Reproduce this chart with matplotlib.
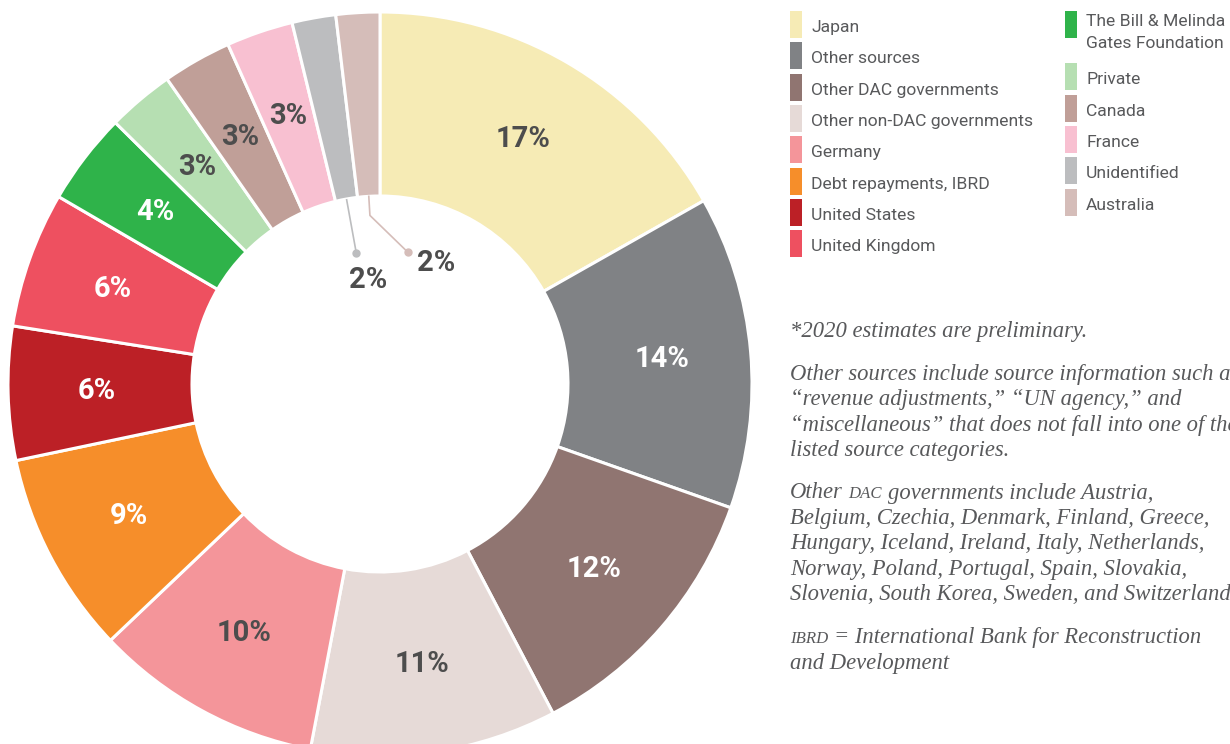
import math
import matplotlib
matplotlib.use("Agg")
import matplotlib.pyplot as plt
from matplotlib.patches import Rectangle

# ---------------- data ----------------
categories = ["Japan", "Other sources", "Other DAC governments", "Other non-DAC governments",
              "Germany", "Debt repayments, IBRD", "United States", "United Kingdom",
              "The Bill & Melinda\nGates Foundation", "Private", "Canada", "France",
              "Unidentified", "Australia"]
shares = [16.8, 13.6, 11.9, 10.7, 9.9, 8.8, 5.8, 5.9, 4.0, 2.9, 3.0, 2.9, 1.9, 1.9]
colors = ["#f6ebb5", "#808285", "#907571", "#e6dad7", "#f4959a", "#f68e2a", "#bc2026",
          "#ee5060", "#2fb34a", "#b6dfb2", "#c09f98", "#f8c0d1", "#bcbdbf", "#d5bdb9"]
label_colors = ["#4d4d4d", "white", "white", "#4d4d4d", "#4d4d4d", "white", "white",
                "white", "white", "#4d4d4d", "#4d4d4d", "#4d4d4d", "#4d4d4d", "#4d4d4d"]

notes = [
    [("*2020 estimates are preliminary.", False)],
    None,
    [("Other sources include source information such as", False)],
    [("“revenue adjustments,” “UN agency,” and", False)],
    [("“miscellaneous” that does not fall into one of the", False)],
    [("listed source categories.", False)],
    None,
    [("Other", False), ("DAC", True), ("governments include Austria,", False)],
    [("Belgium, Czechia, Denmark, Finland, Greece,", False)],
    [("Hungary, Iceland, Ireland, Italy, Netherlands,", False)],
    [("Norway, Poland, Portugal, Spain, Slovakia,", False)],
    [("Slovenia, South Korea, Sweden, and Switzerland.", False)],
    None,
    [("IBRD", True), ("= International Bank for Reconstruction", False)],
    [("and Development", False)],
]

W, H = 1230, 744
TXT = "#58595b"
COND = ["Liberation Sans Narrow", "Roboto"]
SERIF = ["Liberation Serif", "DejaVu Serif"]

fig = plt.figure(figsize=(W / 100, H / 100), dpi=100)
fig.patch.set_facecolor("white")

# ---------------- donut ----------------
R_PX = 372.0
cx, cy = 380.0, 384.0
ax = fig.add_axes([(cx - R_PX) / W, (H - cy - R_PX) / H, 2 * R_PX / W, 2 * R_PX / H])
inner = 188.0 / R_PX
wedges, _ = ax.pie(shares, colors=colors, startangle=90, counterclock=False, radius=1.0,
                   wedgeprops=dict(width=1 - inner, edgecolor="white", linewidth=2.2))
ax.set_xlim(-1, 1)
ax.set_ylim(-1, 1)
ax.set_aspect("equal")
ax.axis("off")


def polar(r, deg):
    a = math.radians(deg)
    return r * math.cos(a), r * math.sin(a)


PCT = 21
n = len(shares)
for i, w in enumerate(wedges):
    mid = (w.theta1 + w.theta2) / 2
    txt = f"{round(shares[i])}%"
    if i < n - 2:
        x, y = polar(0.762, mid)
        ax.text(x, y, txt, ha="center", va="center", fontsize=PCT, fontweight="bold",
                color=label_colors[i], family=COND)
    elif i == n - 2:
        p0 = polar(inner, mid)
        p1 = polar(0.357, mid)
        ax.plot([p0[0], p1[0]], [p0[1], p1[1]], color=colors[i], lw=1.2, solid_capstyle="butt")
        ax.plot([p1[0]], [p1[1]], "o", color=colors[i], ms=5)
        ax.text(p1[0] + 0.033, p1[1] - 0.072, txt, ha="center", va="center", fontsize=PCT,
                fontweight="bold", color=label_colors[i], family=COND)
    else:
        p0 = polar(inner, mid)
        p1 = polar(0.454, mid)
        p2 = (p1[0] + 0.102, p1[1] - 0.099)
        ax.plot([p0[0], p1[0], p2[0]], [p0[1], p1[1], p2[1]], color=colors[i], lw=1.2)
        ax.plot([p2[0]], [p2[1]], "o", color=colors[i], ms=5)
        ax.text(p2[0] + 0.024, p2[1] - 0.03, txt, ha="left", va="center", fontsize=PCT,
                fontweight="bold", color=label_colors[i], family=COND)

# ---------------- legend ----------------
def fx(px):
    return px / W


def fy(py):
    return 1 - py / H


col_items = [list(range(0, 8)), list(range(8, n))]
col_x = [790, 1065]
step = 31.3
sw_w, sw_h = 12, 27
LEG = 12.6
for c, items in enumerate(col_items):
    top = 11.0
    for i in items:
        lines = categories[i].count("\n") + 1
        fig.patches.append(Rectangle((fx(col_x[c]), fy(top + sw_h)), sw_w / W, sw_h / H,
                                     transform=fig.transFigure, facecolor=colors[i],
                                     edgecolor="none"))
        tx = col_x[c] + 21
        if lines == 1:
            fig.text(fx(tx), fy(top + sw_h / 2 + 3), categories[i], ha="left", va="center",
                     fontsize=LEG, color=TXT, family=COND)
        else:
            fig.text(fx(tx), fy(top + 3), categories[i], ha="left", va="top",
                     fontsize=LEG, color=TXT, family=COND, linespacing=1.62)
        top += step + 21 * (lines - 1)

# ---------------- notes ----------------
renderer = fig.canvas.get_renderer()
note_size = 16.3
sc_size = note_size * 0.74


def text_width(s, size):
    t = fig.text(0, 0, s, fontsize=size, style="italic", family=SERIF)
    w = t.get_window_extent(renderer).width
    t.remove()
    return w


space_w = text_width("a a", note_size) - text_width("aa", note_size)

y = 337.0
for line in notes:
    if line is None:
        y += 17
        continue
    x = 790.0
    for seg, smallcap in line:
        size = sc_size if smallcap else note_size
        t = fig.text(fx(x), fy(y), seg, ha="left", va="baseline", fontsize=size,
                     style="italic", family=SERIF, color=TXT)
        x = x + t.get_window_extent(renderer).width + space_w
    y += 25.5

fig.savefig("out.png", dpi=100, facecolor="white")
